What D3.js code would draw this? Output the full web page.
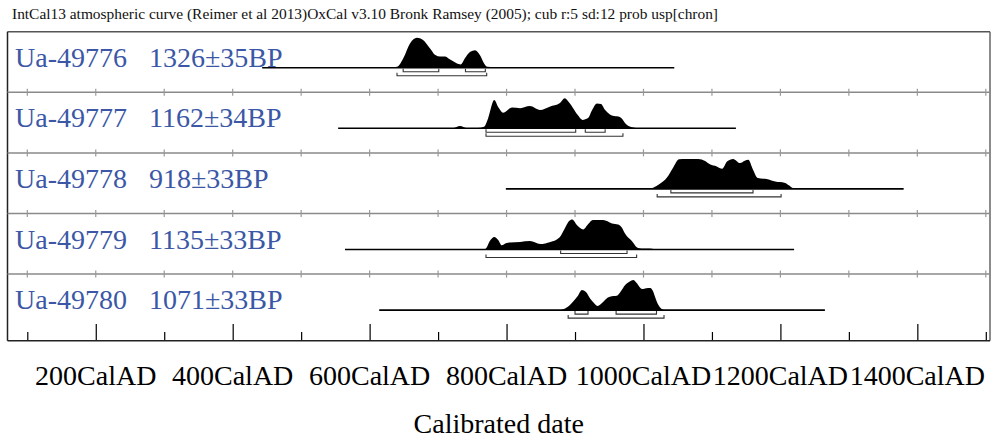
<!DOCTYPE html>
<html>
<head>
<meta charset="utf-8">
<script src="https://cdn.jsdelivr.net/npm/d3@7/dist/d3.min.js"></script>
<style>
html,body{margin:0;padding:0;background:#fff;}
svg{display:block;}
text{font-family:"Liberation Serif","Times New Roman",serif;}
</style>
</head>
<body>
<svg id="chart" width="994" height="443"></svg>
<script>
// ---- data ----
const headerText = "IntCal13 atmospheric curve (Reimer et al 2013)OxCal v3.10 Bronk Ramsey (2005); cub r:5 sd:12 prob usp[chron]";
const categories = ["Ua-49776", "Ua-49777", "Ua-49778", "Ua-49779", "Ua-49780"];
const bpDates = ["1326±35BP", "1162±34BP", "918±33BP", "1135±33BP", "1071±33BP"];
const lineStart = [443, 554, 799, 564, 614];
const lineEnd = [1045, 1135, 1380, 1220, 1265];

// probability distributions [calendar year, relative probability]
const dist49776 = [[605,0],[630,0.01],[640,0.03],[649,0.31],[659,0.81],[669,1.0],[678,0.92],[688,0.65],[696,0.42],[703,0.37],[710,0.37],[717,0.28],[727,0.15],[733,0.11],[739,0.31],[747,0.53],[754,0.58],[761,0.42],[767,0.15],[772,0.03],[790,0.01],[800,0]];
const dist49777 = [[715,0],[722,0.01],[732,0.08],[742,0.01],[758,0.01],[767,0.05],[773,0.33],[782,0.94],[788,0.7],[795,0.52],[808,0.69],[820,0.67],[834,0.74],[849,0.61],[863,0.72],[878,0.84],[885,1.0],[892,0.84],[897,0.68],[904,0.44],[911,0.28],[919,0.34],[925,0.61],[932,0.83],[938,0.81],[944,0.61],[951,0.46],[955,0.42],[963,0.39],[969,0.31],[973,0.18],[980,0.06],[987,0.02],[995,0]];
const dist49778 = [[1005,0],[1014,0.04],[1024,0.17],[1034,0.37],[1043,0.7],[1052,0.99],[1063,1.0],[1080,1.0],[1090,0.93],[1097,0.82],[1107,0.75],[1115,0.67],[1122,0.91],[1131,1.0],[1141,0.86],[1148,0.94],[1153,0.97],[1160,0.64],[1167,0.36],[1175,0.34],[1180,0.33],[1188,0.27],[1194,0.24],[1199,0.23],[1207,0.2],[1213,0.11],[1218,0.03],[1229,0.015],[1253,0.01],[1265,0]];
const dist49779 = [[745,0],[760,0.01],[769,0.02],[776,0.3],[782,0.42],[788,0.31],[793,0.14],[799,0.21],[805,0.23],[820,0.25],[834,0.28],[842,0.23],[849,0.18],[864,0.25],[878,0.42],[885,0.7],[891,0.94],[896,1.0],[903,0.81],[912,0.67],[919,0.84],[926,0.98],[941,0.98],[954,0.87],[963,0.83],[969,0.71],[973,0.53],[983,0.28],[992,0.05],[1002,0.03],[1009,0.03],[1017,0]];
const dist49780 = [[876,0],[882,0.02],[889,0.1],[897,0.28],[904,0.47],[910,0.67],[916,0.6],[922,0.39],[928,0.23],[933,0.14],[941,0.27],[948,0.42],[956,0.47],[961,0.48],[967,0.63],[973,0.83],[980,0.95],[985,1.0],[990,0.9],[998,0.7],[1004,0.73],[1010,0.74],[1014,0.63],[1017,0.44],[1021,0.2],[1027,0.03],[1031,0]];
const distributions = [dist49776, dist49777, dist49778, dist49779, dist49780];

// 68.2% and 95.4% ranges (calendar years)
const range68 = [[[649,701],[740,769]], [[770,901],[915,944]], [[1040,1160]], [[879,976]], [[900,919],[960,1019]]];
const range95 = [[[640,771]], [[770,970]], [[1020,1201]], [[770,990]], [[890,1030]]];

const majorTicks = [200, 400, 600, 800, 1000, 1200, 1400];
const minorTicks = [100, 300, 500, 700, 900, 1100, 1300, 1500];
const tickLabels = ["200CalAD", "400CalAD", "600CalAD", "800CalAD", "1000CalAD", "1200CalAD", "1400CalAD"];
const axisTitle = "Calibrated date";

// ---- drawing ----
const svg = d3.select("#chart");
const frameLeft = 7.5, frameRight = 990, frameTop = 31.7, frameBottom = 340.7;
const rowH = 60.6, baseOff = 36;

const x = d3.scaleLinear().domain([100, 1500]).range([27.3, 985.8]);
const h = d3.scaleLinear().domain([0, 1]).range([0, 30]);
const allTicks = d3.range(100, 1501, 100);

svg.append("text").attr("x", 12).attr("y", 19).attr("font-size", 14.5).attr("fill", "#111")
  .attr("textLength", 706).attr("lengthAdjust", "spacingAndGlyphs")
  .text(headerText);

// frame
svg.append("line").attr("x1", frameLeft).attr("x2", frameRight).attr("y1", frameTop).attr("y2", frameTop)
  .attr("stroke", "#555").attr("stroke-width", 1.5);
svg.append("line").attr("x1", frameLeft).attr("x2", frameLeft).attr("y1", frameTop).attr("y2", frameBottom)
  .attr("stroke", "#222").attr("stroke-width", 1.5);
svg.append("line").attr("x1", frameRight).attr("x2", frameRight).attr("y1", frameTop).attr("y2", frameBottom)
  .attr("stroke", "#666").attr("stroke-width", 1.5);

// row separators with tick marks
for (let i = 1; i < categories.length; i++) {
  const yy = frameTop + i * rowH;
  const g = svg.append("g");
  g.append("line").attr("x1", frameLeft).attr("x2", frameRight).attr("y1", yy).attr("y2", yy)
    .attr("stroke", "#8a8a8a").attr("stroke-width", 1.5);
  g.selectAll("line.t").data(allTicks).join("line").attr("class", "t")
    .attr("x1", d => x(d)).attr("x2", d => x(d)).attr("y1", yy - 3.5).attr("y2", yy + 3.5)
    .attr("stroke", "#999").attr("stroke-width", 1.2);
}

const area = d3.area().x(d => x(d[0])).y0(0).y1(d => -h(d[1])).curve(d3.curveMonotoneX);

categories.forEach((name, i) => {
  const base = frameTop + baseOff + i * rowH;
  const g = svg.append("g").attr("transform", `translate(0,${base})`);
  g.append("text").attr("x", 15).attr("y", -1).attr("font-size", 28).attr("fill", "#3b57a6").text(name);
  g.append("text").attr("x", 149).attr("y", -1).attr("font-size", 28).attr("fill", "#3b57a6").text(bpDates[i]);
  g.append("line").attr("x1", x(lineStart[i])).attr("x2", x(lineEnd[i])).attr("y1", 0).attr("y2", 0)
    .attr("stroke", "#000").attr("stroke-width", 1.6);
  g.append("path").datum(distributions[i]).attr("d", area).attr("fill", "#000");
  const bracket = (r, off) => `M${x(r[0])},${off - 3}V${off}H${x(r[1])}V${off - 3}`;
  g.selectAll("path.r68").data(range68[i]).join("path").attr("class", "r68")
    .attr("d", r => bracket(r, 4)).attr("fill", "none").attr("stroke", "#333").attr("stroke-width", 1.1);
  g.selectAll("path.r95").data(range95[i]).join("path").attr("class", "r95")
    .attr("d", r => bracket(r, 8)).attr("fill", "none").attr("stroke", "#333").attr("stroke-width", 1.1);
});

// bottom axis
const axMajor = d3.axisTop(x).tickValues(majorTicks).tickSize(16.7).tickFormat("");
const axMinor = d3.axisTop(x).tickValues(minorTicks).tickSize(8.7).tickFormat("");
const gA = svg.append("g").attr("transform", `translate(0,${frameBottom})`).call(axMajor);
const gB = svg.append("g").attr("transform", `translate(0,${frameBottom})`).call(axMinor);
[gA, gB].forEach(g => { g.select(".domain").remove(); g.selectAll(".tick line").attr("stroke", "#000").attr("stroke-width", 1.2); });
svg.append("line").attr("x1", frameLeft).attr("x2", frameRight).attr("y1", frameBottom).attr("y2", frameBottom)
  .attr("stroke", "#222").attr("stroke-width", 1.5);

svg.selectAll("text.tl").data(majorTicks).join("text").attr("class", "tl")
  .attr("x", d => x(d)).attr("y", 385).attr("text-anchor", "middle").attr("font-size", 28).attr("fill", "#000")
  .text((d, i) => tickLabels[i]);
svg.append("text").attr("x", (frameLeft + frameRight) / 2).attr("y", 433).attr("text-anchor", "middle")
  .attr("font-size", 28).attr("fill", "#000").text(axisTitle);
</script>
</body>
</html>
